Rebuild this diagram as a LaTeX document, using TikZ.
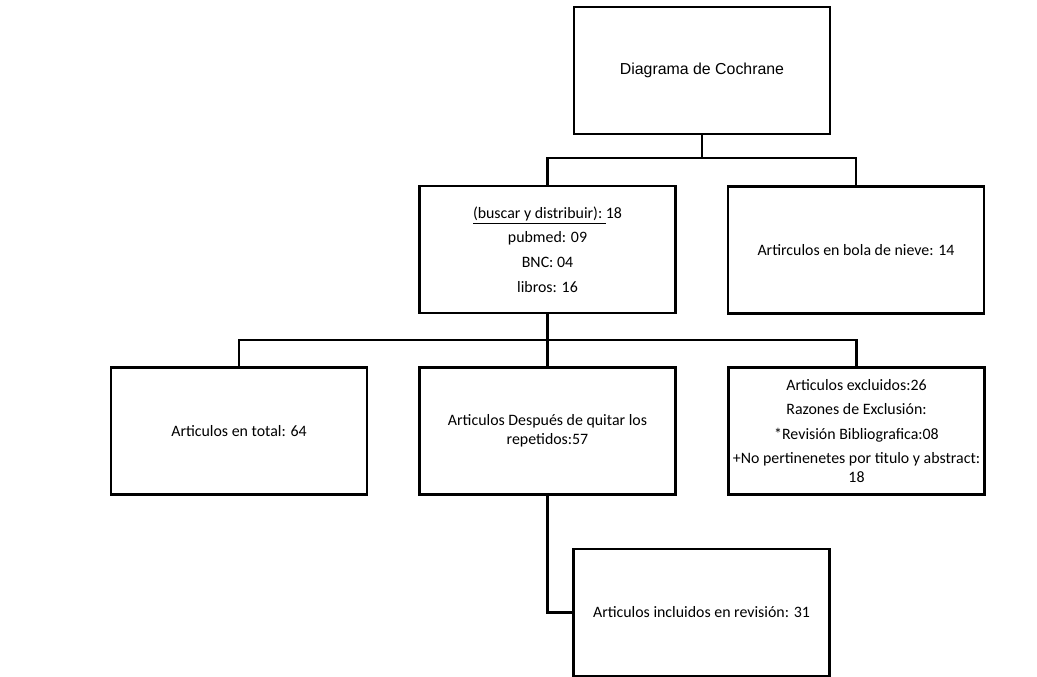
\documentclass[tikz,border=0pt]{standalone}
\usepackage{fontspec}
\setmainfont{Carlito}
\newfontfamily\arialfont{Liberation Sans}
\begin{document}
\begin{tikzpicture}[x=0.25mm,y=-0.25mm,
    caja/.style={draw,fill=white,line width=2pt,minimum width=64mm,minimum height=31.75mm,
      inner sep=0pt,align=center,font=\fontsize{11.3}{13.5}\selectfont},
    linea/.style={line width=1.9pt}]
    \useasboundingbox (0,0) rectangle (1037,677);
    \node[caja,font=\arialfont\fontsize{11.3}{13.5}\selectfont] (cochrane) at (702,70.5) {Diagrama de Cochrane};
    \node[caja] (buscar) at (547.5,249.5) {\underline{(buscar y distribuir):\ }18\\[4pt] pubmed: 09\\[4pt] BNC: 04\\[4pt] libros: 16};
    \node[caja] (bola) at (856,250) {Artirculos en bola de nieve: 14};
    \node[caja] (total) at (239,431) {Articulos en total: 64};
    \node[caja] (repetidos) at (547.5,431) {Articulos Después de quitar los\\ repetidos:57};
    \node[caja] (excluidos) at (856.5,431) {Articulos excluidos:26\\[4pt] Razones de Exclusión:\\[4pt]
      *Revisión Bibliografica:08\\[4pt] +No pertinenetes por titulo y abstract:\\ 18};
    \node[caja] (incluidos) at (701.5,612.5) {Articulos incluidos en revisión: 31};
    \coordinate (bus1) at (702,158);
    \coordinate (bus2) at (547.5,340);
    \draw[linea] (cochrane) -- (bus1);
    \draw[linea] (buscar.north) |- (bus1) -| (bola.north);
    \draw[linea] (buscar) -- (repetidos);
    \draw[linea] (total.north) |- (bus2) -| (excluidos.north);
    \draw[linea] (repetidos.south) |- (incluidos.west);
\end{tikzpicture}
\end{document}
